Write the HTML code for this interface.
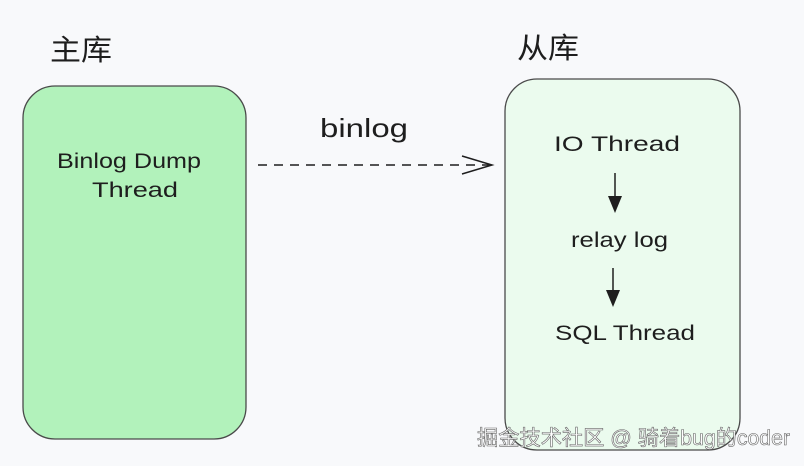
<!DOCTYPE html>
<html><head><meta charset="utf-8"><style>
html,body{margin:0;padding:0;background:#f8f9fb;}
svg{display:block}
.h{font-family:"Liberation Sans","Noto Sans CJK SC",sans-serif;font-size:29px;fill:#1e1e1e}
.t{font-family:"Liberation Sans",sans-serif;font-size:21px;fill:#1e1e1e}
.w{font-family:"Liberation Sans","Noto Sans CJK SC",sans-serif;font-size:21px;fill:#fff;stroke:#666;stroke-width:0.6}
</style></head><body>
<svg width="804" height="466" viewBox="0 0 804 466" xmlns="http://www.w3.org/2000/svg">
<rect width="804" height="466" fill="#f8f9fb"/>
<text class="h" x="50" y="60" textLength="62" lengthAdjust="spacingAndGlyphs">主库</text>
<text class="h" x="517" y="58" textLength="62" lengthAdjust="spacingAndGlyphs">从库</text>
<rect x="23" y="86" width="223" height="353" rx="32" fill="#b2f2bb" stroke="#4a4a4a" stroke-width="1.3"/>
<rect x="505" y="79" width="235" height="371" rx="32" fill="#ebfbee" stroke="#4a4a4a" stroke-width="1.3"/>
<text class="t" x="57" y="168" textLength="144" lengthAdjust="spacingAndGlyphs">Binlog Dump</text>
<text class="t" x="92" y="197" textLength="86" lengthAdjust="spacingAndGlyphs">Thread</text>
<text class="t" x="320" y="137" style="font-size:26px" textLength="88" lengthAdjust="spacingAndGlyphs">binlog</text>
<line x1="258" y1="165" x2="490" y2="165" stroke="#1e1e1e" stroke-width="1.5" stroke-dasharray="9,7"/>
<polyline points="462,156 492,165 462,174" fill="none" stroke="#1e1e1e" stroke-width="1.5"/>
<text class="t" x="554" y="151" textLength="126" lengthAdjust="spacingAndGlyphs">IO Thread</text>
<line x1="615" y1="173" x2="615" y2="198" stroke="#1e1e1e" stroke-width="1.5"/>
<polygon points="608,196 622,196 615,213" fill="#1e1e1e"/>
<text class="t" x="571" y="247" textLength="97" lengthAdjust="spacingAndGlyphs">relay log</text>
<line x1="613" y1="268" x2="613" y2="292" stroke="#1e1e1e" stroke-width="1.5"/>
<polygon points="606,290 620,290 613,307" fill="#1e1e1e"/>
<text class="t" x="555" y="340" textLength="140" lengthAdjust="spacingAndGlyphs">SQL Thread</text>
<text class="w" x="477" y="445" textLength="313" lengthAdjust="spacingAndGlyphs">掘金技术社区 @ 骑着bug的coder</text>
</svg>
</body></html>
